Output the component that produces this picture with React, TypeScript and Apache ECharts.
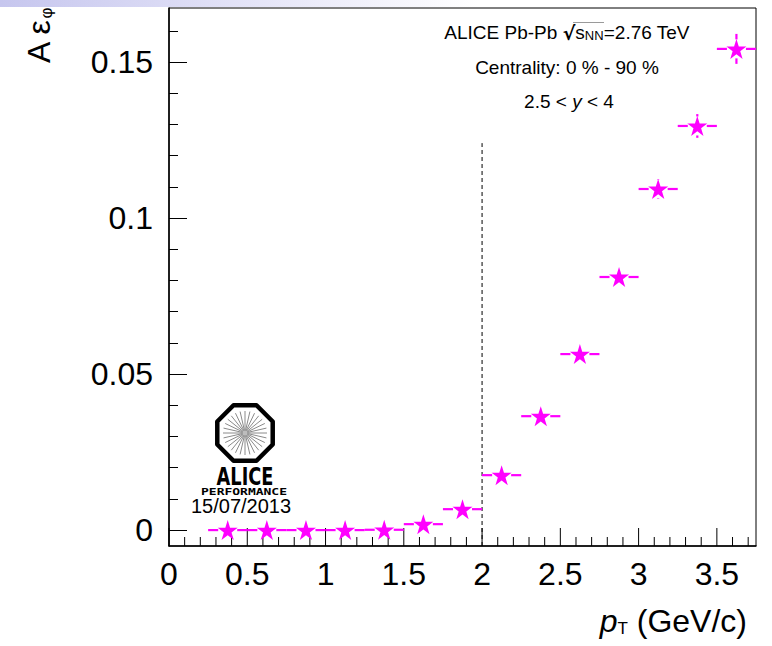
import React, { useEffect, useRef } from "react";
import * as echarts from "echarts";

// ---- data ----
const ptCenters = [0.375, 0.625, 0.875, 1.125, 1.375, 1.625, 1.875, 2.125, 2.375, 2.625, 2.875, 3.125, 3.375, 3.625];
const ptHalfWidths = [0.125, 0.125, 0.125, 0.125, 0.125, 0.125, 0.125, 0.125, 0.125, 0.125, 0.125, 0.125, 0.125, 0.125];
const accEff = [0.0, 0.0, 0.0, 0.0, 0.0001, 0.0019, 0.0067, 0.0176, 0.0365, 0.0564, 0.0811, 0.1093, 0.1295, 0.1542];
const accEffErr = [0.0002, 0.0002, 0.0002, 0.0002, 0.0003, 0.0005, 0.0008, 0.0012, 0.0016, 0.002, 0.0025, 0.0032, 0.0038, 0.0048];

const xMajorTicks = [0, 0.5, 1, 1.5, 2, 2.5, 3, 3.5];
const xMinorTicks = [0.1, 0.2, 0.3, 0.4, 0.6, 0.7, 0.8, 0.9, 1.1, 1.2, 1.3, 1.4, 1.6, 1.7, 1.8, 1.9, 2.1, 2.2, 2.3, 2.4, 2.6, 2.7, 2.8, 2.9, 3.1, 3.2, 3.3, 3.4, 3.6, 3.7];
const yMajorTicks = [0, 0.05, 0.1, 0.15];
const yMinorTicks = [0.01, 0.02, 0.03, 0.04, 0.06, 0.07, 0.08, 0.09, 0.11, 0.12, 0.13, 0.14, 0.16];

const cutLineX = 2;
const cutLineTop = 0.124;

const X_MIN = 0;
const X_MAX = 3.75;
const Y_MIN = -0.0051;
const Y_MAX = 0.1673;

const FONT = "'Liberation Sans', Arial, Helvetica, sans-serif";
const MAGENTA = "#ff00ff";
const STAR = "path://M50,0 L61.2,34.5 L97.6,34.5 L68.2,55.9 L79.4,90.5 L50,69.1 L20.6,90.5 L31.8,55.9 L2.4,34.5 L38.8,34.5 Z";

function buildLogo() {
  const cx = 245;
  const cy = 433;
  const r = 30;
  const pts: number[][] = [];
  for (let k = 0; k < 8; k++) {
    const a = ((k * 45 + 22.5) * Math.PI) / 180;
    pts.push([cx + r * Math.cos(a), cy + r * Math.sin(a)]);
  }
  const rays: any[] = [];
  const nRays = 28;
  for (let k = 0; k < nRays; k++) {
    const a = (k * 2 * Math.PI) / nRays;
    rays.push({
      type: "line",
      shape: { x1: cx + 2 * Math.cos(a), y1: cy + 2 * Math.sin(a), x2: cx + 22 * Math.cos(a), y2: cy + 22 * Math.sin(a) },
      style: { stroke: "#8a8a8a", lineWidth: 1 },
    });
  }
  return [
    { type: "polygon", shape: { points: pts }, style: { fill: "#fff", stroke: "#000", lineWidth: 4.5, lineJoin: "round" } },
    ...rays,
    { type: "circle", shape: { cx, cy, r: 2.5 }, style: { fill: "#bdbdbd" } },
    {
      type: "text",
      x: 245,
      y: 476,
      scaleX: 0.74,
      style: { text: "ALICE", font: "bold 24px 'DejaVu Sans'", fill: "#000", textAlign: "center", textVerticalAlign: "middle" },
    },
    {
      type: "text",
      x: 244,
      y: 492,
      scaleY: 0.72,
      style: { text: "PERFORMANCE", font: "bold 13px 'DejaVu Sans Mono'", fill: "#000", textAlign: "center", textVerticalAlign: "middle" },
    },
    {
      type: "text",
      x: 241,
      y: 506,
      style: { text: "15/07/2013", font: `20px ${FONT}`, fill: "#000", textAlign: "center", textVerticalAlign: "middle" },
    },
  ];
}

export default function App() {
  const ref = useRef<HTMLDivElement>(null);
  useEffect(() => {
    if (!ref.current) return;
    const chart = echarts.init(ref.current, null, { renderer: "svg" });

    const errData = ptCenters.map((x, i) => [x, accEff[i], ptHalfWidths[i], accEffErr[i]]);
    const pointData = ptCenters.map((x, i) => [x, accEff[i]]);
    const xTickData = [...xMajorTicks.map((v) => [v, 18]), ...xMinorTicks.map((v) => [v, 9])];

    const option: any = {
      animation: false,
      backgroundColor: "#fff",
      grid: { left: 169, top: 8, width: 587, height: 538, show: true, borderColor: "#000", borderWidth: 1, backgroundColor: "transparent" },
      xAxis: [
        {
          type: "value",
          min: X_MIN,
          max: X_MAX,
          position: "bottom",
          axisLine: { show: true, onZero: false, lineStyle: { color: "#000", width: 1.5 } },
          axisTick: { show: false },
          axisLabel: { customValues: xMajorTicks, fontSize: 32, fontFamily: FONT, color: "#000", margin: 12 },
          splitLine: { show: false },
        },
      ],
      yAxis: [
        {
          type: "value",
          min: Y_MIN,
          max: Y_MAX,
          position: "left",
          axisLine: { show: true, onZero: false, lineStyle: { color: "#000", width: 1.5 } },
          axisTick: { show: true, inside: true, length: 18, customValues: yMajorTicks, lineStyle: { color: "#000", width: 1 } },
          axisLabel: { customValues: yMajorTicks, fontSize: 32, fontFamily: FONT, color: "#000", margin: 16 },
          splitLine: { show: false },
        },
        {
          type: "value",
          min: Y_MIN,
          max: Y_MAX,
          position: "left",
          axisLine: { show: false, onZero: false },
          axisTick: { show: true, inside: true, length: 9, customValues: yMinorTicks, lineStyle: { color: "#000", width: 1 } },
          axisLabel: { show: false },
          splitLine: { show: false },
        },
      ],
      series: [
        {
          type: "custom",
          xAxisIndex: 0,
          yAxisIndex: 0,
          data: xTickData,
          silent: true,
          z: 0,
          renderItem: (params: any, api: any) => {
            const p = api.coord([api.value(0), Y_MIN]);
            const len = api.value(1);
            return {
              type: "line",
              shape: { x1: p[0], y1: p[1], x2: p[0], y2: p[1] - len },
              style: { stroke: "#000", lineWidth: 1 },
            };
          },
        },
        {
          type: "line",
          xAxisIndex: 0,
          yAxisIndex: 0,
          data: [
            [cutLineX, Y_MIN],
            [cutLineX, cutLineTop],
          ],
          symbol: "none",
          lineStyle: { color: "#000", width: 1, type: [4, 3] },
          z: 1,
        },
        {
          type: "custom",
          xAxisIndex: 0,
          yAxisIndex: 0,
          data: errData,
          z: 2,
          renderItem: (params: any, api: any) => {
            const x = api.value(0);
            const y = api.value(1);
            const hw = api.value(2);
            const e = api.value(3);
            const c = api.coord([x, y]);
            const l = api.coord([x - hw, y]);
            const r = api.coord([x + hw, y]);
            const t = api.coord([x, y + e]);
            const b = api.coord([x, y - e]);
            const gap = 9.5;
            const st = { stroke: MAGENTA, lineWidth: 2.2 };
            const children: any[] = [];
            if (c[0] - gap > l[0]) children.push({ type: "line", shape: { x1: l[0], y1: c[1], x2: c[0] - gap, y2: c[1] }, style: st });
            if (r[0] > c[0] + gap) children.push({ type: "line", shape: { x1: c[0] + gap, y1: c[1], x2: r[0], y2: c[1] }, style: st });
            if (c[1] - gap > t[1]) children.push({ type: "line", shape: { x1: c[0], y1: t[1], x2: c[0], y2: c[1] - gap }, style: st });
            if (b[1] > c[1] + gap) children.push({ type: "line", shape: { x1: c[0], y1: c[1] + gap, x2: c[0], y2: b[1] }, style: st });
            return { type: "group", children };
          },
        },
        {
          type: "scatter",
          xAxisIndex: 0,
          yAxisIndex: 0,
          data: pointData,
          symbol: STAR,
          symbolSize: 20,
          itemStyle: { color: MAGENTA, opacity: 1 },
          z: 3,
        },
      ],
      graphic: [
        {
          type: "rect",
          shape: { x: 0, y: 0, width: 772, height: 7 },
          style: {
            fill: new echarts.graphic.LinearGradient(0, 0, 1, 0, [
              { offset: 0, color: "#c6c6ee" },
              { offset: 0.3, color: "#e2e2f7" },
              { offset: 0.62, color: "#ffffff" },
              { offset: 1, color: "#ffffff" },
            ]),
          },
          silent: true,
        },
        {
          type: "text",
          x: 38.5,
          y: 63,
          rotation: Math.PI / 2,
          style: {
            text: "{a|A ε}{s|φ}",
            textAlign: "left",
            textVerticalAlign: "middle",
            rich: {
              a: { fontSize: 32, fontFamily: FONT, fill: "#000", verticalAlign: "bottom", lineHeight: 32 },
              s: { fontSize: 17, fontFamily: FONT, fill: "#000", verticalAlign: "bottom", lineHeight: 14 },
            },
          },
        },
        {
          type: "text",
          x: 747,
          y: 621,
          style: {
            text: "{p|p}{s|T}{n| (GeV/c)}",
            textAlign: "right",
            textVerticalAlign: "middle",
            rich: {
              p: { fontSize: 32, fontFamily: FONT, fontStyle: "italic", fill: "#000", verticalAlign: "bottom", lineHeight: 32 },
              s: { fontSize: 17, fontFamily: FONT, fill: "#000", verticalAlign: "bottom", lineHeight: 12 },
              n: { fontSize: 32, fontFamily: FONT, fill: "#000", verticalAlign: "bottom", lineHeight: 32 },
            },
          },
        },
        {
          type: "text",
          x: 567,
          y: 32,
          style: {
            text: "{n|ALICE Pb-Pb }{q|√}{n|s}{s|NN}{n|=2.76 TeV}",
            textAlign: "center",
            textVerticalAlign: "middle",
            rich: {
              n: { fontSize: 19, fontFamily: FONT, fill: "#000", verticalAlign: "bottom", lineHeight: 20 },
              q: { fontSize: 19, fontFamily: "'DejaVu Sans'", fontWeight: "bold", fill: "#000", verticalAlign: "bottom", lineHeight: 20 },
              s: { fontSize: 13, fontFamily: FONT, fill: "#000", verticalAlign: "bottom", lineHeight: 10 },
            },
          },
        },
        {
          type: "line",
          shape: { x1: 573, y1: 22.5, x2: 604, y2: 22.5 },
          style: { stroke: "#9a9a9a", lineWidth: 1 },
          silent: true,
        },
        {
          type: "text",
          x: 567,
          y: 67,
          style: { text: "Centrality: 0 % - 90 %", font: `19px ${FONT}`, fill: "#000", textAlign: "center", textVerticalAlign: "middle" },
        },
        {
          type: "text",
          x: 569,
          y: 101,
          style: {
            text: "{n|2.5 < }{i|y}{n| < 4}",
            textAlign: "center",
            textVerticalAlign: "middle",
            rich: {
              n: { fontSize: 19, fontFamily: FONT, fill: "#000" },
              i: { fontSize: 19, fontFamily: FONT, fontStyle: "italic", fill: "#000" },
            },
          },
        },
        ...buildLogo(),
      ],
    };
    chart.setOption(option);
    return () => chart.dispose();
  }, []);
  return <div ref={ref} style={{ position: "absolute", left: 0, top: 0, width: 772, height: 646 }} />;
}
